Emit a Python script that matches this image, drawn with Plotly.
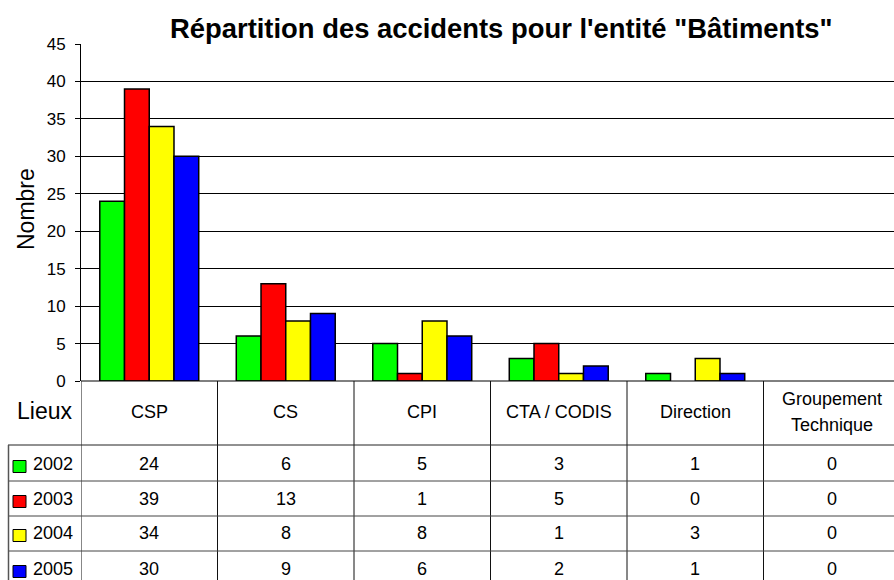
import plotly.graph_objects as go

categories = ["CSP", "CS", "CPI", "CTA / CODIS", "Direction", "Groupement<br>Technique"]
years = ["2002", "2003", "2004", "2005"]
v2002 = [24, 6, 5, 3, 1, 0]
v2003 = [39, 13, 1, 5, 0, 0]
v2004 = [34, 8, 8, 1, 3, 0]
v2005 = [30, 9, 6, 2, 1, 0]
series = [v2002, v2003, v2004, v2005]
colors = ["#00FF00", "#FF0000", "#FFFF00", "#0000FF"]

W, H = 894, 580
FONT = "Liberation Sans, Arial, sans-serif"

def py(p):  # pixel y -> paper
    return (H - p) / H

def px(p):
    return p / W

fig = go.Figure()
xi = list(range(len(categories)))
for name, vals, c in zip(years, series, colors):
    fig.add_trace(go.Bar(x=xi, y=vals, name=name,
                         marker=dict(color=c, line=dict(color="black", width=[1.5 if v > 0 else 0 for v in vals]))))

plot_left, plot_bottom, plot_top = 81, 381, 44
cat_w = 136.5
x_right = -0.5 + (W - plot_left) / cat_w

fig.update_layout(
    template="none",
    width=W, height=H, margin=dict(l=0, r=0, t=0, b=0, pad=0), autosize=False,
    paper_bgcolor="white", plot_bgcolor="white",
    barmode="group", bargap=0.275, bargroupgap=0,
    showlegend=False,
    font=dict(family=FONT, color="black"),
    xaxis=dict(domain=[px(plot_left), 1], range=[-0.5, x_right], showticklabels=False,
               showgrid=False, zeroline=False, showline=False, ticks="", automargin=False),
    yaxis=dict(domain=[py(plot_bottom), py(plot_top)], range=[0, 45], dtick=5,
               showgrid=True, gridcolor="black", gridwidth=1, zeroline=False,
               showline=True, linecolor="black", linewidth=1, automargin=False,
               ticks="outside", ticklen=5, tickcolor="black", ticklabelstandoff=6,
               tickfont=dict(size=17, family=FONT)),
)

shapes = []
ann = []
# title
ann.append(dict(text="<b>Répartition des accidents pour l'entité \"Bâtiments\"</b>", x=px(501), y=py(28.5),
                xref="paper", yref="paper", showarrow=False, font=dict(size=27.4, family=FONT),
                xanchor="center", yanchor="middle"))
ann.append(dict(text="Nombre", x=px(26), y=py(209), xref="paper", yref="paper", showarrow=False,
                textangle=-90, font=dict(size=23, family=FONT), xanchor="center", yanchor="middle"))
ann.append(dict(text="Lieux", x=px(44), y=py(411), xref="paper", yref="paper", showarrow=False,
                font=dict(size=23, family=FONT), xanchor="center", yanchor="middle"))

line = dict(color="#111111", width=1)
# x axis line
shapes.append(dict(type="line", xref="paper", yref="paper", x0=px(plot_left), x1=1, y0=py(plot_bottom), y1=py(plot_bottom), line=dict(color="black", width=1)))
# vertical column lines
for i in range(len(categories)):
    shapes.append(dict(type="line", xref="x", yref="paper", x0=i - 0.5, x1=i - 0.5, y0=py(plot_bottom), y1=0, line=line))
# header bottom line and row separators
row_lines = [445, 481, 516, 551]
for k, yl in enumerate(row_lines):
    shapes.append(dict(type="line", xref="paper", yref="paper", x0=px(8), x1=1, y0=py(yl), y1=py(yl),
                       line=dict(color="#222222" if k == 0 else "#444444", width=1)))
shapes.append(dict(type="line", xref="paper", yref="paper", x0=px(8.5), x1=px(8.5), y0=py(445), y1=0,
                   line=dict(color="#555555", width=1.5)))

# header labels (multi-line labels laid out one line at a time)
for i, c in enumerate(categories):
    parts = c.split("<br>")
    n = len(parts)
    for j, part in enumerate(parts):
        yc = 412 + (j - (n - 1) / 2) * 26
        ann.append(dict(text=part, x=i, y=py(yc), xref="x", yref="paper", showarrow=False,
                        font=dict(size=18, family=FONT), xanchor="center", yanchor="middle"))

row_centers = [464, 499, 533, 569]
for r, (name, vals, col) in enumerate(zip(years, series, colors)):
    yc = row_centers[r]
    shapes.append(dict(type="rect", xref="paper", yref="paper", x0=px(13), x1=px(26), y0=py(yc + 8.5), y1=py(yc - 3.5),
                       fillcolor=col, line=dict(color="black", width=1)))
    ann.append(dict(text=name, x=px(31), y=py(yc), xref="paper", yref="paper", showarrow=False,
                    font=dict(size=18, family=FONT), xanchor="left", yanchor="middle"))
    for i, v in enumerate(vals):
        ann.append(dict(text=str(v), x=i, y=py(yc), xref="x", yref="paper", showarrow=False,
                        font=dict(size=18, family=FONT), xanchor="center", yanchor="middle"))

fig.update_layout(shapes=shapes, annotations=ann)
fig.write_html("out.html", config={"displayModeBar": False},
               post_script="document.body.style.margin='0';document.body.style.overflow='hidden';")
